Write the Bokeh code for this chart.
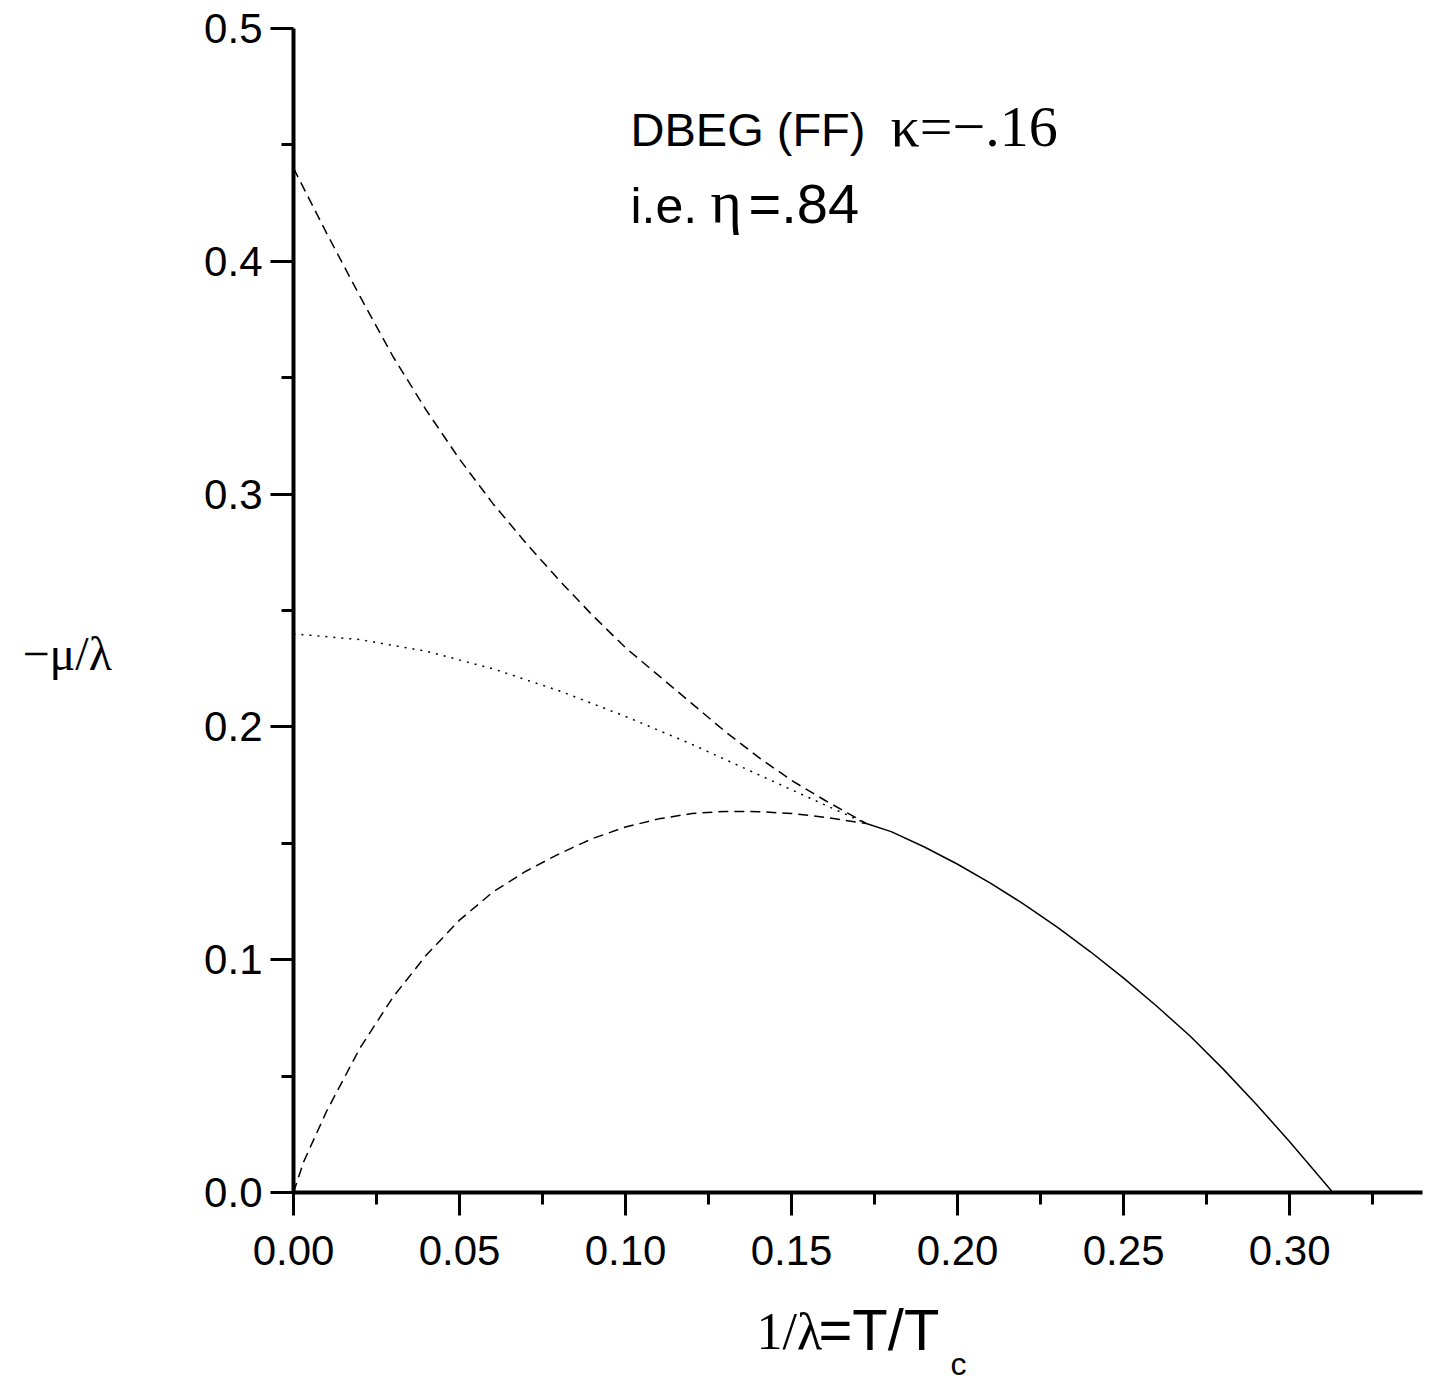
from bokeh.plotting import figure
from bokeh.models import Label, FixedTicker, Range1d
from bokeh.layouts import row, column
from bokeh.embed import file_html
from bokeh.resources import INLINE

# ---- data ----
upper_x = [0.0, 0.01, 0.02, 0.03, 0.04, 0.05, 0.06, 0.07, 0.08, 0.09, 0.10, 0.11, 0.12, 0.13, 0.14, 0.15, 0.16, 0.1725]
upper_y = [0.440, 0.412, 0.385, 0.359, 0.336, 0.315, 0.296, 0.279, 0.263, 0.248, 0.234, 0.222, 0.210, 0.198, 0.187, 0.177, 0.1685, 0.1585]

dotted_x = [0.0, 0.02, 0.04, 0.06, 0.08, 0.10, 0.12, 0.14, 0.16, 0.1725]
dotted_y = [0.240, 0.2375, 0.2325, 0.225, 0.2155, 0.2045, 0.1925, 0.1795, 0.1665, 0.1585]

lower_x = [0.0, 0.003, 0.01, 0.02, 0.03, 0.04, 0.05, 0.06, 0.07, 0.08, 0.09, 0.10, 0.11, 0.12, 0.13, 0.14, 0.15, 0.16, 0.1725]
lower_y = [0.0, 0.013, 0.035, 0.062, 0.084, 0.102, 0.117, 0.129, 0.138, 0.1455, 0.152, 0.157, 0.1605, 0.1628, 0.1637, 0.1636, 0.1628, 0.1612, 0.1585]

solid_x = [0.1725, 0.18, 0.19, 0.20, 0.21, 0.22, 0.23, 0.24, 0.25, 0.26, 0.27, 0.28, 0.29, 0.30, 0.305, 0.31, 0.313]
solid_y = [0.1585, 0.1550, 0.1484, 0.1410, 0.1328, 0.1238, 0.1140, 0.1034, 0.0921, 0.0800, 0.0672, 0.0530, 0.0378, 0.0218, 0.0134, 0.0050, 0.0]

x_major = [0.0, 0.05, 0.10, 0.15, 0.20, 0.25, 0.30]
x_labels = ["0.00", "0.05", "0.10", "0.15", "0.20", "0.25", "0.30"]
x_minor = [0.025, 0.075, 0.125, 0.175, 0.225, 0.275, 0.325]
y_major = [0.0, 0.1, 0.2, 0.3, 0.4, 0.5]
y_labels = ["0.0", "0.1", "0.2", "0.3", "0.4", "0.5"]
y_minor = [0.05, 0.15, 0.25, 0.35, 0.45]

SANS = "Liberation Sans"
SERIF = "Liberation Serif"

LEFT_W = 160
MAIN_H = 1290
FRAME_BOTTOM = 1192  # page px of the plot frame's bottom edge


def blank_fig(w, h):
    f = figure(width=w, height=h, output_backend="svg", toolbar_location=None,
               x_range=Range1d(0, w), y_range=Range1d(0, h),
               x_axis_location=None, y_axis_location=None, min_border=0)
    f.outline_line_color = None
    f.grid.visible = False
    f.background_fill_color = "white"
    f.border_fill_color = "white"
    return f


def lab(fig, text, sx, sy, font, size):
    fig.add_layout(Label(x=sx, y=sy, x_units="screen", y_units="screen", text=text,
                         text_font=font, text_font_size=f"{size}px", text_color="black",
                         text_baseline="alphabetic", text_align="left"))


p = figure(width=1270, height=MAIN_H, output_backend="svg", toolbar_location=None,
           x_range=Range1d(0, 0.34), y_range=Range1d(0, 0.5),
           min_border_left=293 - LEFT_W, min_border_right=8, min_border_top=28,
           min_border_bottom=MAIN_H - FRAME_BOTTOM)
p.outline_line_color = None
p.grid.visible = False
p.background_fill_color = "white"
p.border_fill_color = "white"

p.xaxis.ticker = FixedTicker(ticks=x_major, minor_ticks=x_minor)
p.yaxis.ticker = FixedTicker(ticks=y_major, minor_ticks=y_minor)
p.xaxis.major_label_overrides = {v: s for v, s in zip(x_major, x_labels)}
p.yaxis.major_label_overrides = {v: s for v, s in zip(y_major, y_labels)}

for ax in (p.xaxis, p.yaxis):
    ax.axis_line_width = 4
    ax.axis_line_color = "black"
    ax.major_tick_line_width = 3
    ax.minor_tick_line_width = 3
    ax.major_tick_line_color = "black"
    ax.minor_tick_line_color = "black"
    ax.major_tick_in = 0
    ax.major_tick_out = 23
    ax.minor_tick_in = 0
    ax.minor_tick_out = 12
    ax.major_label_text_font = SANS
    ax.major_label_text_font_size = "42px"
    ax.major_label_text_color = "black"
p.xaxis.major_label_standoff = 20
p.yaxis.major_label_standoff = 8

p.line(upper_x, upper_y, line_color="black", line_width=1.5, line_dash="10 6")
p.line(dotted_x, dotted_y, line_color="black", line_width=1.5, line_dash="2 6")
p.line(lower_x, lower_y, line_color="black", line_width=1.5, line_dash="10 6")
p.line(solid_x, solid_y, line_color="black", line_width=1.5)

# title block inside the plot frame (frame left = 293, bottom = 1192 in page px)
lab(p, "DBEG (FF)", 337, 1063, SANS, 47)
lab(p, "κ=−.16", 597, 1066, SERIF, 58)
lab(p, "i.e.", 337, 987, SANS, 50)
lab(p, "η", 417, 991, SERIF, 60)
lab(p, "=.84", 455, 989, SANS, 56)

# y-axis title panel (its frame is aligned with the main frame)
yfig = blank_fig(LEFT_W, MAIN_H)
lab(yfig, "−μ/λ", 22, FRAME_BOTTOM - 672 + 19, SERIF, 48)

# x-axis title panel (page y from MAIN_H to MAIN_H + XH)
XH = 90
xfig = blank_fig(LEFT_W + 1270, XH)
lab(xfig, "1/λ", 756, XH - (1352 - MAIN_H) + 21, SERIF, 52)
lab(xfig, "=T/T", 818, XH - (1352 - MAIN_H) + 23, SANS, 58)
lab(xfig, "c", 950, XH - (1376 - MAIN_H) + 13, SANS, 32)

layout = column(row(yfig, p), xfig)
open("out.html", "w").write(file_html(layout, INLINE))
